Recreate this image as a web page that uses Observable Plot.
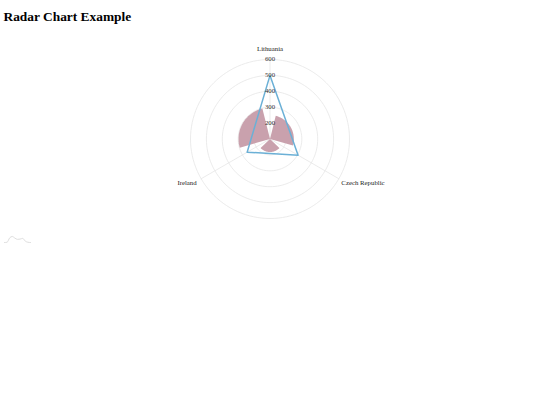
<!DOCTYPE html>
<html><head><meta charset="utf-8">
<script src="https://cdn.jsdelivr.net/npm/d3@7"></script>
<script src="https://cdn.jsdelivr.net/npm/@observablehq/plot@0.6"></script>
<style>
html,body{margin:0;padding:0;background:#fff}
h1{margin:0;height:33px;box-sizing:border-box;padding:8px 0 0 3.5px;font:bold 13.4px/18px "Liberation Serif",serif;color:#000}
svg{display:block}
#mini{margin:5px 0 0 3px}
</style></head><body>
<h1>Radar Chart Example</h1>
<div id="chart"></div><div id="mini"></div>
<script>
const categories = ["Lithuania", "Czech Republic", "Ireland"];
const lineValues = [500, 304, 266];
const barValues = [250, 182, 298];
const tickValues = [100, 200, 300, 400, 500, 600];
const sparkA = [0, 0.2, 3.4, 4.4, 3.2, 2.3, 2.5, 3.0, 1.0, 0.2, 0];
const axisMin = 100, axisMax = 600;

const rad = d => d * Math.PI / 180;
const pt = (v, deg) => ({x: (v - axisMin) * Math.sin(rad(deg)), y: (v - axisMin) * Math.cos(rad(deg))});
const angleOf = i => i * 120;

const rings = tickValues.slice(1).flatMap(v => d3.range(0, 361, 3).map(a => ({...pt(v, a), v})));
const spokes = categories.flatMap((c, i) => [{...pt(axisMin, 0), c}, {...pt(axisMax, angleOf(i)), c}]);
const wedgeCentres = [60, 180, 300];
const wedges = barValues.flatMap((v, i) => {
  const c = wedgeCentres[i];
  return [{...pt(axisMin, 0), i}, ...d3.range(c - 46, c + 46.1, 2).map(a => ({...pt(v, a), i}))];
});
const poly = [...lineValues, lineValues[0]].map((v, i) => pt(v, angleOf(i)));
const ticks = tickValues.slice(1).map(v => ({...pt(v, 0), v}));
const labels = categories.map((c, i) => ({...pt(axisMax, angleOf(i)), c}));

const font = "Liberation Serif";
const chart = Plot.plot({
  width: 540, height: 197, margin: 0,
  x: {domain: [-500, 500], range: [190, 349], axis: null},
  y: {domain: [-500, 500], range: [185, 26], axis: null},
  style: {background: "transparent", fontFamily: font},
  marks: [
    Plot.line(rings, {x: "x", y: "y", z: "v", stroke: "#e6e6e6", strokeWidth: 0.8}),
    Plot.line(spokes, {x: "x", y: "y", z: "c", stroke: "#e6e6e6", strokeWidth: 0.8}),
    Plot.line(wedges, {x: "x", y: "y", z: "i", fill: "#c9a1ad", stroke: "none"}),
    Plot.line(poly, {x: "x", y: "y", stroke: "#6bb0d6", strokeWidth: 1.5, curve: "linear-closed"}),
    Plot.text(ticks, {x: "x", y: "y", text: d => String(d.v), dy: -0.5, fontSize: 6.8, fill: "#333"}),
    Plot.text(labels.filter(d => d.c === categories[0]), {x: "x", y: "y", text: "c", dy: -11, fontSize: 6.8, fill: "#222"}),
    Plot.text(labels.filter(d => d.c === categories[1]), {x: "x", y: "y", text: "c", dx: 2.5, dy: 4.5, textAnchor: "start", fontSize: 6.8, fill: "#222"}),
    Plot.text(labels.filter(d => d.c === categories[2]), {x: "x", y: "y", text: "c", dx: -4.5, dy: 4.5, textAnchor: "end", fontSize: 6.8, fill: "#222"})
  ]
});
document.getElementById("chart").append(chart);

const mini = Plot.plot({
  width: 28, height: 8, margin: 1,
  x: {axis: null}, y: {axis: null},
  marks: [Plot.line(sparkA.map((v, i) => ({i, v})), {x: "i", y: "v", stroke: "#dedede", strokeWidth: 1, curve: "monotone-x"})]
});
document.getElementById("mini").append(mini);
</script>
</body></html>
